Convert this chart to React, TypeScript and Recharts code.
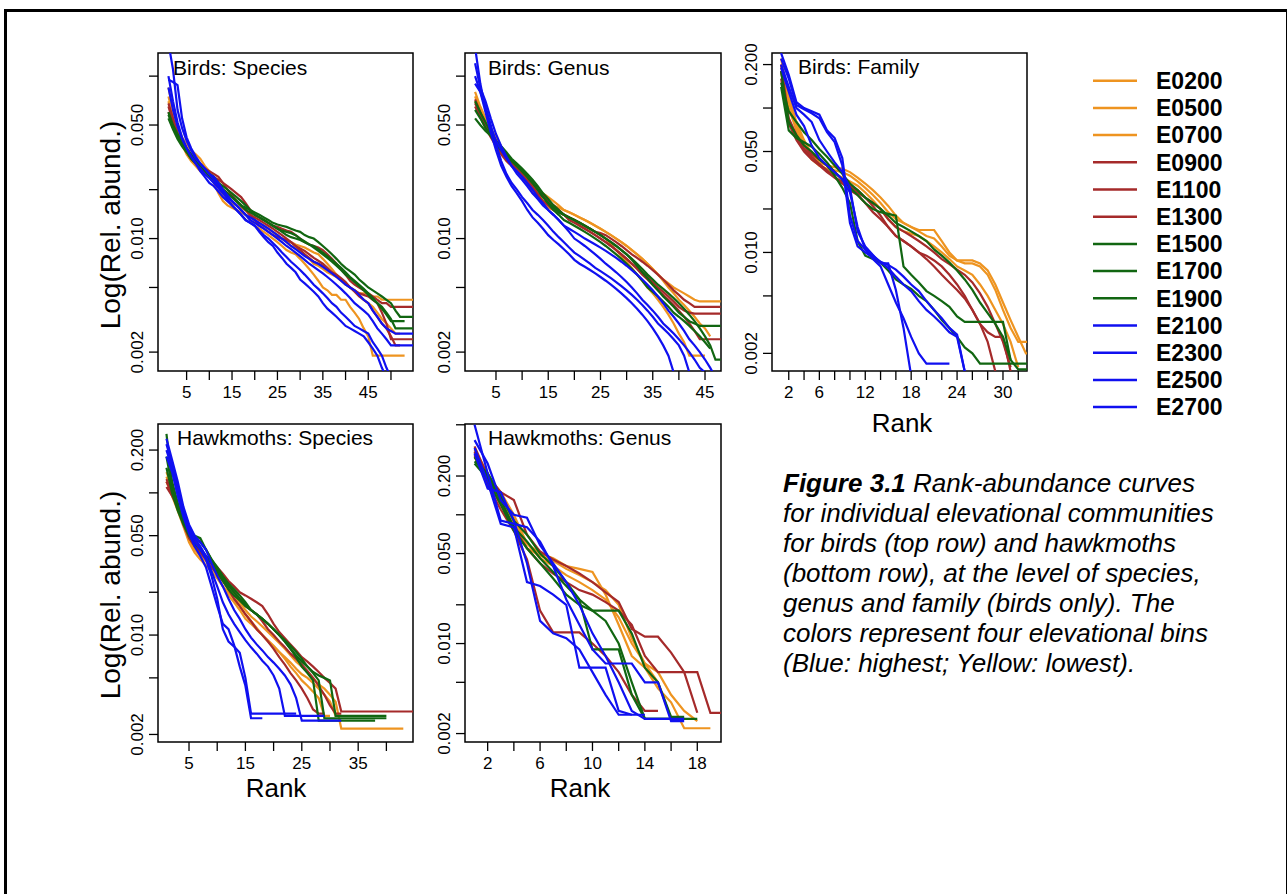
import { LineChart, Line, XAxis, YAxis, ReferenceArea } from 'recharts'

const FONT = '"Liberation Sans", Arial, Helvetica, sans-serif'

const sites = ['E0200', 'E0500', 'E0700', 'E0900', 'E1100', 'E1300', 'E1500', 'E1700', 'E1900', 'E2100', 'E2300', 'E2500', 'E2700']
const ORANGE = '#EE9420'
const RED = '#A52A2A'
const GREEN = '#116611'
const BLUE = '#1010F0'
const siteColors = [ORANGE, ORANGE, ORANGE, RED, RED, RED, GREEN, GREEN, GREEN, BLUE, BLUE, BLUE, BLUE]

// relative abundance in per mille, one row per site (same order as sites), rank 1 first
const birdsSpecies: number[][] = [
  [85, 62, 50, 42, 38, 35, 33, 31, 28, 26, 24, 21, 18, 17, 16.5, 16, 15.5, 15, 14, 13, 12.5, 12, 11.5, 11, 10.5, 10, 9.8, 9.5, 9.2, 9, 8.8, 8.5, 8.2, 8, 7.5, 7, 6.5, 6, 5.6, 5.3, 5, 4.8, 4.6, 4.6, 4.6, 4.4, 4.4, 4.2, 4.2, 4.2, 4.2, 4.2, 4.2, 4.2, 4.2],
  [75, 58, 46, 40, 36, 32, 30, 29, 27, 25, 23, 21, 19, 18, 17, 16, 15, 14, 13.5, 13, 12.5, 12, 11.5, 11, 10.5, 10, 9.5, 9, 8.7, 8.5, 8, 7.5, 7, 6.8, 6.5, 6.2, 6, 5.8, 5.5, 5.2, 5, 4.8, 4.5, 4.2, 4, 3.8, 3.5, 3.2, 3, 2.8, 2.6, 2.6],
  [70, 55, 45, 38, 33, 30, 28, 26, 25, 24, 22, 19, 17, 16, 15.5, 15, 14.5, 14, 13, 12, 11.5, 11, 10.5, 10, 9.5, 9, 8.5, 8.2, 8, 7.5, 7, 6.5, 6, 5.5, 5, 4.8, 4.5, 4.5, 4.2, 4.2, 3.8, 3.5, 3.2, 2.8, 2.5, 1.9, 1.9, 1.9, 1.9, 1.9, 1.9, 1.9, 1.9],
  [65, 52, 44, 39, 35, 32, 30, 28, 26, 25, 24, 23, 22, 21, 20, 19, 18, 16.5, 15, 14, 13.5, 13, 12.5, 12, 11.8, 11.5, 11.2, 11, 10.5, 10, 9.5, 9.2, 9, 8.8, 8.5, 8, 7.5, 7, 6.5, 6, 5.5, 5.2, 5, 4.8, 4.6, 4.4, 4.2, 4, 4, 3.8, 3.8, 3.8, 3.8, 3.8, 3.8],
  [60, 50, 43, 38, 34, 31, 29, 27, 26, 25, 23, 21, 20, 19, 18, 17, 16, 15, 14, 13, 12, 11.5, 11, 10.5, 10.2, 10, 9.8, 9.5, 9, 8.5, 8, 7.6, 7.2, 7, 6.8, 6.5, 6.2, 6, 5.7, 5.4, 5, 4.7, 4.4, 4.2, 4, 3.6, 3.3, 3, 2.8, 2.5, 2.2, 2.2],
  [68, 55, 45, 40, 36, 33, 30, 28, 27, 26, 25, 24, 22, 20, 18.5, 17, 16, 15, 14, 13.5, 13, 12.5, 12, 11.5, 11, 10.5, 10, 9.5, 9, 8.7, 8.4, 8, 7.6, 7.3, 7, 6.6, 6.2, 5.9, 5.6, 5.3, 5, 4.8, 4.6, 4.5, 4.4, 4.2, 4, 3.5, 3, 2.4, 2.4, 2.4, 2.4, 2.4, 2.4],
  [60, 50, 44, 40, 36, 33, 30, 28, 26, 25, 24, 22, 21, 20, 19, 18, 17, 16, 15, 14.5, 14, 13.5, 13, 12.5, 12.2, 12, 11.8, 11.5, 11.2, 11, 10.5, 10.2, 10, 9.5, 9, 8.5, 8, 7.5, 7, 6.6, 6.3, 6, 5.6, 5.3, 5, 4.8, 4.6, 4.4, 4.2, 4, 3.6, 3.3, 3.3, 3.3, 3.3],
  [58, 48, 42, 38, 35, 32, 30, 28, 26, 25, 23, 22, 20, 19, 18, 17, 16, 15, 14.5, 14, 13.5, 13, 12.5, 12, 11.5, 11.2, 11, 10.8, 10.5, 10, 9.6, 9.2, 8.8, 8.4, 8, 7.6, 7.2, 6.8, 6.4, 6, 5.7, 5.4, 5.1, 4.8, 4.5, 4.2, 4, 3.8, 3.5, 3.2, 2.8, 2.8, 2.8, 2.8, 2.8],
  [55, 47, 41, 37, 34, 31, 29, 27, 26, 24, 23, 21, 20, 19, 18, 17, 16, 15.5, 15, 14, 13.5, 13, 12.5, 12, 11.5, 11, 10.5, 10.2, 10, 9.8, 9.5, 9.2, 9, 8.6, 8.2, 7.8, 7.4, 7, 6.6, 6.2, 5.8, 5.5, 5.2, 4.9, 4.6, 4.3, 4, 3.7, 3.4, 3.1, 3.1, 3.1, 3.1],
  [160, 110, 62, 48, 40, 35, 31, 29, 27, 25, 24, 22, 20, 18.5, 17, 16, 15, 14, 13.5, 13, 12.5, 12, 11.5, 11, 10.5, 10, 9.5, 9, 8.6, 8.2, 7.8, 7.5, 7.2, 7, 6.7, 6.4, 6.1, 5.8, 5.5, 5.2, 5, 4.8, 4.5, 4.2, 4, 3.6, 3.3, 3, 2.8, 2.7, 2.6, 2.6, 2.6, 2.6, 2.6],
  [95, 92, 88, 55, 42, 36, 32, 29, 27, 25, 23, 21, 19.5, 18, 17, 16, 15, 14, 13, 12.5, 12, 11.5, 11, 10.5, 10, 9.5, 9, 8.6, 8.2, 7.8, 7.4, 7, 6.7, 6.4, 6.1, 5.8, 5.5, 5.2, 4.9, 4.6, 4.3, 4, 3.8, 3.6, 3.4, 3.1, 2.8, 2.6, 2.4, 2.2, 2.2, 2.2, 2.2, 2.2, 2.2],
  [85, 62, 49, 41, 36, 32, 29, 27, 25, 23.5, 22, 20.5, 19, 17.5, 16, 15, 14, 13, 12.5, 12, 11.2, 10.5, 10, 9.4, 8.8, 8.2, 7.7, 7.2, 6.8, 6.4, 6, 5.6, 5.2, 4.9, 4.6, 4.3, 4, 3.8, 3.5, 3.3, 3.1, 2.9, 2.8, 2.7, 2.6, 2.3, 2.1, 1.9, 1.6, 1.4],
  [100, 70, 52, 42, 36, 32, 29, 26, 24, 22, 21, 19.5, 18, 17, 16, 15, 14, 13, 12.5, 12, 11, 10.2, 9.5, 9, 8.2, 7.6, 7, 6.6, 6.2, 5.6, 5.3, 5, 4.7, 4.4, 4, 3.7, 3.5, 3.3, 3.1, 2.9, 2.8, 2.7, 2.6, 2.5, 2.3, 2.1, 1.9, 1.6, 1.4],
]

const birdsGenus: number[][] = [
  [80, 65, 55, 48, 42, 37, 33, 30, 28, 26, 24, 22, 20, 19, 18, 17, 16, 15, 14.5, 14, 13.5, 13, 12.5, 12, 11.5, 11, 10.5, 10, 9.5, 9, 8.5, 8, 7.5, 7, 6.5, 6, 5.6, 5.3, 5, 4.8, 4.6, 4.4, 4.2, 4.1, 4.1, 4.1, 4.1, 4.1],
  [75, 62, 52, 46, 40, 35, 32, 29, 27, 25, 22, 19, 18, 17, 16.5, 16, 15.5, 15, 14.5, 14, 13.5, 13, 12.5, 12, 11.5, 11, 10.5, 10, 9.5, 9, 8.5, 8, 7.5, 7, 6.5, 6, 5.5, 5, 4.6, 4.2, 3.9, 3.6, 3.3, 3, 2.8, 2.5],
  [70, 60, 50, 44, 38, 34, 31, 29, 27, 25, 23, 21, 19, 17, 15.5, 15, 14.5, 14, 13.5, 13, 12.5, 12, 11.5, 11, 10.5, 10, 9.2, 8.5, 7.8, 7.2, 6.6, 6, 5.5, 5, 4.6, 4.2, 3.8, 3.4, 3, 2.6, 2.3, 1.9, 1.9, 1.9, 1.9],
  [72, 60, 50, 44, 39, 35, 32, 30, 28, 26, 24, 22, 20, 18.5, 17, 16, 15, 14, 13.5, 13, 12.5, 12, 11.5, 11, 10.8, 10.5, 10, 9.5, 9, 8.5, 8, 7.6, 7.2, 6.8, 6.4, 6, 5.6, 5.2, 4.8, 4.5, 4.2, 4, 3.8, 3.8, 3.8, 3.8, 3.8, 3.8],
  [68, 58, 49, 43, 38, 34, 31, 29, 27, 25, 23, 21, 19, 18, 17, 16, 15, 14, 13, 12.5, 12, 11.5, 11, 10.5, 10, 9.5, 9, 8.5, 8, 7.5, 7, 6.6, 6.2, 5.8, 5.4, 5, 4.7, 4.4, 4.1, 3.8, 3.6, 3.5, 3.45, 3.45, 3.45, 3.45, 3.45, 3.45],
  [65, 56, 48, 42, 37, 33, 30, 28, 26, 24, 22, 20, 18.5, 17, 16, 15, 14.5, 14, 13.5, 13, 12, 11.5, 11, 10.5, 10, 9.5, 9, 8.5, 8, 7.5, 7, 6.5, 6, 5.6, 5.2, 4.8, 4.5, 4.2, 3.9, 3.6, 3.3, 3, 2.7, 2.4, 2.4, 2.4, 2.4, 2.4],
  [55, 50, 46, 43, 40, 37, 34, 31, 29, 27, 25, 23, 21, 19, 17.5, 16, 15, 14, 13.5, 13, 12.5, 12, 11.5, 11, 10.5, 10, 9.5, 9, 8.5, 8, 7.5, 7, 6.5, 6, 5.6, 5.2, 4.9, 4.6, 4.3, 4, 3.7, 3.4, 3.1, 2.8, 2.5, 2.2, 1.8, 1.8],
  [62, 55, 48, 43, 38, 35, 32, 30, 28, 26, 24, 22, 20, 18, 16.5, 15.5, 14.5, 14, 13.5, 13, 12.5, 12, 11.5, 11, 10.5, 10, 9.5, 9, 8.5, 8, 7.4, 6.8, 6.2, 5.7, 5.2, 4.8, 4.4, 4.1, 3.8, 3.5, 3.3, 3.1, 3, 2.9, 2.9, 2.9, 2.9, 2.9],
  [70, 60, 52, 45, 40, 36, 33, 30, 28, 26, 24, 22, 20, 18, 16.5, 15, 14, 13, 12.5, 12, 11.5, 11, 10.5, 10, 9.5, 9, 8.5, 8, 7.5, 7, 6.5, 6, 5.5, 5, 4.7, 4.4, 4.1, 3.8, 3.5, 3.3, 3.1, 2.9, 2.7, 2.5, 2.3, 2.1],
  [150, 90, 62, 48, 40, 35, 31, 28, 26, 24, 22, 20, 18, 16.5, 15, 14, 13, 12, 11.5, 11, 10.5, 10, 9.6, 9.2, 8.8, 8.4, 8, 7.6, 7.2, 6.8, 6.4, 6, 5.6, 5.2, 4.8, 4.4, 4, 3.6, 3.3, 3, 2.7, 2.4, 2.2, 2, 1.8, 1.6, 1.4],
  [120, 85, 70, 55, 44, 37, 32, 28, 25, 23, 21, 19, 17.5, 16, 15, 14, 13, 12, 11, 10, 9.5, 9, 8.5, 8, 7.5, 7, 6.6, 6.2, 5.8, 5.4, 5, 4.6, 4.2, 3.9, 3.6, 3.3, 3, 2.8, 2.6, 2.4, 2.2, 2, 1.8, 1.6, 1.5, 1.4],
  [90, 80, 65, 50, 38, 30, 25, 22, 20, 18, 16.5, 15, 14, 13, 12, 11, 10.2, 9.5, 8.8, 8.2, 7.8, 7.4, 7, 6.6, 6.3, 6, 5.7, 5.4, 5.1, 4.8, 4.5, 4.2, 3.9, 3.6, 3.3, 3, 2.8, 2.6, 2.4, 2.2, 1.9, 1.5],
  [100, 80, 60, 45, 35, 28, 24, 21, 19, 17, 15, 13.5, 12.5, 11.5, 10.5, 9.8, 9.2, 8.6, 8, 7.4, 7, 6.7, 6.4, 6.1, 5.8, 5.5, 5.2, 4.9, 4.6, 4.3, 4, 3.7, 3.4, 3.1, 2.8, 2.5, 2.2, 1.9, 1.5],
]

const birdsFamily: number[][] = [
  [220, 120, 80, 60, 48, 42, 40, 39, 38, 36, 33, 30, 27, 24, 21, 18, 16, 15, 14.3, 14.3, 14.3, 12, 10, 8.8, 8.4, 8.4, 8, 7, 5.5, 4, 3, 2.4, 2.4, 2.4],
  [200, 110, 75, 56, 46, 40, 38, 37, 36, 34, 31, 28, 25, 22, 19, 17, 16, 15, 14, 13, 12.5, 11, 9.5, 8.8, 8.8, 8.8, 8.4, 7.5, 6, 4.5, 3.4, 2.6, 2, 2],
  [180, 100, 70, 52, 44, 40, 37, 35, 33, 31, 29, 26, 23, 20, 17, 15, 14, 13.5, 13, 12, 11, 10, 9, 8, 7.5, 7, 6, 5, 4, 3.2, 2.4, 1.6],
  [200, 85, 65, 55, 48, 44, 40, 36, 32, 29, 26, 24, 22, 20, 17, 15, 14, 13, 12, 11, 10, 9, 8.3, 7.6, 7, 6.2, 5.2, 4.2, 3.2, 2.4, 1.6],
  [180, 80, 62, 52, 46, 41, 37, 33, 30, 27, 25, 22, 19, 17, 15, 13, 12, 11, 10, 9, 8, 7, 6.2, 5.5, 4.8, 4, 3.2, 2.4, 1.5],
  [160, 78, 60, 50, 44, 40, 36, 33, 31, 29, 27, 24, 21, 18, 15, 13, 12, 11, 10, 9.5, 8.8, 8, 7, 6, 5, 4, 3.2, 2.8, 2.6, 2.6, 1.5],
  [150, 95, 80, 68, 60, 52, 46, 40, 35, 30, 27, 24, 22, 20, 18, 16, 15, 14, 13, 12, 10.5, 9.5, 8.5, 7.5, 6.5, 5.5, 4.5, 3.8, 3.2, 2.6, 1.8, 1.55, 1.55, 1.55],
  [140, 70, 62, 58, 54, 48, 42, 36, 32, 28, 25, 22, 20, 19, 18.5, 18, 8, 7, 6.2, 5.4, 5, 4.6, 4.2, 3.6, 3.3, 3.3, 3.3, 3.3, 3.3, 3.3, 1.8],
  [180, 80, 65, 55, 50, 44, 40, 34, 28, 22, 12, 9.5, 9, 8.5, 7.5, 6.5, 6, 5.6, 5, 4.6, 4, 3.4, 3, 2.6, 2.2, 2, 1.7, 1.7, 1.7, 1.7, 1.7, 1.7, 1.7, 1.7],
  [240, 170, 110, 100, 95, 90, 70, 62, 45, 18, 12, 10.5, 9.5, 8.6, 8.2, 7.6, 6.8, 6, 5.4, 4.6, 4, 3.5, 3, 2.7, 1.5],
  [220, 160, 105, 98, 92, 85, 68, 58, 40, 16, 11, 10, 9.2, 8.6, 7.8, 6.8, 6, 5.4, 4.6, 4, 3.6, 3.2, 2.8, 2.6, 1.5],
  [200, 140, 100, 90, 80, 60, 50, 42, 36, 28, 14, 11, 9.6, 8.4, 8.4, 5.5, 3, 1.4],
  [190, 130, 90, 75, 55, 45, 40, 36, 32, 26, 15, 10.5, 9, 8, 6, 4.5, 3.5, 2.6, 2, 1.7, 1.7, 1.7, 1.7],
]

const hawkSpecies: number[][] = [
  [140, 110, 85, 65, 50, 42, 38, 35, 32, 28, 24, 21, 19, 17, 15, 13.5, 12.5, 11.5, 10.5, 9.6, 8.8, 8, 7.2, 6.5, 6, 5.5, 5, 4.5, 4.2, 3.8, 3.4, 2.2, 2.2, 2.2, 2.2, 2.2, 2.2, 2.2, 2.2, 2.2, 2.2, 2.2, 2.2],
  [130, 100, 80, 62, 48, 40, 36, 33, 30, 26, 22, 19, 17, 15, 13, 12, 11, 10, 9, 8.3, 7.6, 7, 6.4, 5.8, 5.3, 5, 4.6, 4.2, 3.8, 3.4, 2.7, 2.7],
  [120, 95, 75, 58, 45, 38, 34, 31, 28, 25, 22, 20, 18, 16, 14, 12.5, 11.2, 10, 9.2, 8.4, 7.6, 6.8, 6, 5.4, 4.8, 4.4, 4, 3.6, 2.7, 2.7],
  [110, 95, 80, 65, 52, 46, 40, 36, 33, 30, 27, 24, 22, 20, 19, 18, 17, 16, 14, 12, 10.5, 9.5, 8.6, 7.8, 7, 6.5, 6, 5.5, 5, 4.6, 4.2, 2.9, 2.9, 2.9, 2.9, 2.9, 2.9, 2.9, 2.9, 2.9, 2.9, 2.9, 2.9, 2.9, 2.9],
  [120, 98, 78, 62, 50, 43, 38, 35, 32, 29, 26, 23, 20, 18, 16, 15, 14, 12.5, 11, 10, 9, 8.2, 7.4, 6.8, 6.2, 5.6, 5, 4.4, 3.8, 3.2, 2.8, 2.8],
  [125, 100, 80, 60, 48, 42, 38, 34, 30, 27, 24, 21, 18, 16, 14, 12.5, 11, 10, 9, 8, 7, 6.2, 5.4, 4.8, 4.2, 3.6, 3, 2.8, 2.8],
  [260, 120, 85, 62, 52, 50, 48, 40, 34, 30, 26, 23, 21, 19, 17, 15, 14, 13, 12, 11, 10, 9, 8, 7.2, 6.5, 6, 5.5, 5.2, 5, 4.8, 2.7, 2.7, 2.7, 2.7, 2.7, 2.7, 2.7, 2.7, 2.7, 2.7],
  [180, 110, 80, 65, 55, 50, 45, 40, 34, 29, 25, 22, 20, 18, 16.5, 15, 14, 13, 12, 11, 10, 9.2, 8.4, 7.6, 6.8, 6, 5.4, 4.8, 2.6, 2.6, 2.6, 2.6, 2.6, 2.6, 2.6, 2.6, 2.6, 2.6, 2.6, 2.6],
  [150, 100, 75, 60, 50, 44, 40, 36, 32, 28, 24, 21, 19, 17.5, 16, 15, 14, 13, 12, 11, 10, 9, 8, 7, 6, 5.4, 4.8, 2.5, 2.5, 2.5, 2.5, 2.5, 2.5, 2.5, 2.5, 2.5, 2.5, 2.5],
  [240, 170, 120, 80, 60, 50, 45, 40, 32, 26, 22, 18, 15, 13, 11, 9.6, 8.6, 7.8, 7, 6.4, 5.8, 5.2, 4.5, 3.6, 2.5, 2.5, 2.5, 2.5, 2.5, 2.5, 2.5, 2.5],
  [220, 160, 110, 75, 58, 48, 42, 36, 28, 22, 17, 14, 12, 10.5, 9.2, 8.2, 7.4, 6.6, 6, 5.2, 4.2, 2.7, 2.7, 2.7, 2.7, 2.7, 2.7, 2.7, 2.7],
  [200, 150, 100, 70, 55, 45, 40, 34, 26, 18, 11, 9, 8.3, 7.5, 5, 2.8, 2.8, 2.8, 2.8, 2.8, 2.8, 2.8, 2.8, 2.8],
  [180, 140, 95, 68, 52, 42, 36, 30, 22, 16, 12, 11, 8.5, 6, 4.4, 2.6, 2.6, 2.6],
]

const hawkGenus: number[][] = [
  [300, 200, 150, 100, 60, 50, 46, 40, 38, 36, 24, 14, 8, 6.5, 4.5, 3.5, 2.2, 2.2, 2.2],
  [280, 190, 140, 95, 55, 48, 44, 38, 34, 30, 26, 20, 11, 7, 6, 4, 3, 2.5],
  [320, 210, 130, 85, 60, 46, 40, 34, 30, 26, 22, 16, 10, 7, 5, 2.6],
  [340, 200, 150, 130, 70, 52, 45, 40, 35, 30, 25, 21, 13, 11.3, 11.3, 8.5, 6, 6, 2.9, 2.9],
  [310, 180, 120, 80, 55, 42, 35, 30, 26, 24, 21, 18, 14, 8, 6, 6, 6, 2.9],
  [290, 170, 110, 75, 45, 18, 12.2, 12.2, 12.2, 10, 8, 6, 4, 3, 3],
  [260, 210, 140, 90, 70, 50, 40, 30, 22, 18, 18, 18, 12, 6.5, 5, 2.7, 2.7],
  [280, 200, 130, 80, 62, 46, 36, 28, 22, 9, 9, 9, 4, 2.6, 2.6, 2.6, 2.6],
  [250, 190, 120, 75, 55, 42, 32, 24, 20, 18, 15, 10, 5, 2.6, 2.6, 2.6, 2.6, 2.6],
  [500, 210, 90, 85, 80, 62, 40, 22, 14, 9, 7, 7, 7, 5, 5, 2.5, 2.5],
  [380, 250, 130, 100, 95, 58, 42, 30, 20, 12, 8, 5, 3, 2.6, 2.6, 2.6, 2.6],
  [330, 180, 85, 80, 30, 28, 24, 20, 6.5, 6.5, 6.5, 3, 2.8, 2.8],
  [300, 160, 150, 90, 42, 15, 12, 11, 9, 6, 4, 2.8, 2.8],
]

const yTicks = [2, 5, 10, 20, 50, 100, 200, 500]

const panels = [
  {
    title: 'Birds: Species', data: birdsSpecies, box: [158, 53, 255, 318],
    xDomain: [-1.3, 54.85], xTicks: [5, 10, 15, 20, 25, 30, 35, 40, 45, 50], xLabels: [5, 15, 25, 35, 45],
    yDomain: [1.53, 138.8], yLabels: [2, 10, 50], titleAt: [173, 75],
  },
  {
    title: 'Birds: Genus', data: birdsGenus, box: [465, 53, 256, 318],
    xDomain: [-0.93, 48.06], xTicks: [5, 10, 15, 20, 25, 30, 35, 40, 45], xLabels: [5, 15, 25, 35, 45],
    yDomain: [1.53, 138.8], yLabels: [2, 10, 50], titleAt: [488, 75],
  },
  {
    title: 'Birds: Family', data: birdsFamily, box: [772, 53, 255, 318],
    xDomain: [-0.19, 33.14], xTicks: [2, 4, 6, 8, 10, 12, 14, 16, 18, 20, 22, 24, 26, 28, 30, 32], xLabels: [2, 6, 12, 18, 24, 30],
    yDomain: [1.51, 240.5], yLabels: [2, 10, 50, 200], titleAt: [798, 74],
  },
  {
    title: 'Hawkmoths: Species', data: hawkSpecies, box: [158, 424, 255, 318],
    xDomain: [-0.5, 44.72], xTicks: [5, 10, 15, 20, 25, 30, 35, 40], xLabels: [5, 15, 25, 35],
    yDomain: [1.77, 305], yLabels: [2, 10, 50, 200], titleAt: [177, 445],
  },
  {
    title: 'Hawkmoths: Genus', data: hawkGenus, box: [465, 424, 256, 318],
    xDomain: [0.27, 19.81], xTicks: [2, 4, 6, 8, 10, 12, 14, 16, 18], xLabels: [2, 6, 10, 14, 18],
    yDomain: [1.72, 507], yLabels: [2, 10, 50, 200], titleAt: [488, 445],
  },
]

const XTick = (props: any) => {
  const { x, y, payload, labels } = props
  if (!labels.includes(payload.value)) return <g />
  return (
    <text x={x} y={y} dy="0.71em" textAnchor="middle" fontSize={17} fontFamily={FONT} fill="#000">
      {payload.value}
    </text>
  )
}

const YTick = (props: any) => {
  const { x, y, payload, labels } = props
  if (!labels.includes(payload.value)) return <g />
  return (
    <text x={x} y={y} transform={`rotate(-90 ${x} ${y})`} textAnchor="middle" fontSize={17} fontFamily={FONT} fill="#000">
      {(payload.value / 1000).toFixed(3)}
    </text>
  )
}

function Panel({ cfg }: { cfg: any }) {
  const [bx, by, bw, bh] = cfg.box
  const YW = 60
  const XH = 40
  const MT = 30
  const MR = 5
  const ticks = yTicks.filter((t) => t >= cfg.yDomain[0] && t <= cfg.yDomain[1])
  return (
    <div style={{ position: 'absolute', left: bx - YW, top: by - MT }}>
      <LineChart width={YW + bw + MR} height={MT + bh + XH} margin={{ top: MT, right: MR, bottom: 0, left: 0 }}>
        <XAxis
          dataKey="r"
          type="number"
          domain={cfg.xDomain}
          ticks={cfg.xTicks}
          interval={0}
          allowDataOverflow
          axisLine={false}
          tickLine={{ stroke: '#000', strokeWidth: 1.3 }}
          tickSize={9}
          tickMargin={6}
          height={XH}
          tick={(p: any) => <XTick {...p} labels={cfg.xLabels} />}
        />
        <YAxis
          type="number"
          scale="log"
          domain={cfg.yDomain}
          ticks={ticks}
          interval={0}
          allowDataOverflow
          axisLine={false}
          tickLine={{ stroke: '#000', strokeWidth: 1.3 }}
          tickSize={9}
          tickMargin={6}
          width={YW}
          tick={(p: any) => <YTick {...p} labels={cfg.yLabels} />}
        />
        {cfg.data.map((vals: number[], i: number) => (
          <Line
            key={sites[i]}
            data={vals.map((v, k) => ({ r: k + 1, v }))}
            dataKey="v"
            type="linear"
            stroke={siteColors[i]}
            strokeWidth={2.2}
            dot={false}
            isAnimationActive={false}
          />
        ))}
        <ReferenceArea
          x1={cfg.xDomain[0]}
          x2={cfg.xDomain[1]}
          y1={cfg.yDomain[0]}
          y2={cfg.yDomain[1]}
          fill="none"
          fillOpacity={0}
          stroke="#000"
          strokeWidth={1.5}
          ifOverflow="visible"
        />
      </LineChart>
    </div>
  )
}

const captionLines = [
  'for individual elevational communities',
  'for birds (top row) and hawkmoths',
  '(bottom row), at the level of species,',
  'genus and family (birds only). The',
  'colors represent four elevational bins',
  '(Blue: highest; Yellow: lowest).',
]

export default function App() {
  return (
    <div style={{ position: 'absolute', left: 0, top: 0, width: 1287, height: 894, overflow: 'hidden', background: '#fff' }}>
      <div style={{ position: 'absolute', left: 4, top: 9, width: 1285, height: 900, border: '3px solid #000', boxSizing: 'border-box' }} />
      {panels.map((cfg) => (
        <Panel key={cfg.title} cfg={cfg} />
      ))}
      <svg width={1287} height={894} style={{ position: 'absolute', left: 0, top: 0, pointerEvents: 'none' }} fontFamily={FONT}>
        {panels.map((cfg) => (
          <text key={cfg.title} x={cfg.titleAt[0]} y={cfg.titleAt[1]} fontSize={21} fill="#000">
            {cfg.title}
          </text>
        ))}
        <text x={120} y={225} transform="rotate(-90 120 225)" textAnchor="middle" fontSize={28} fill="#000">
          Log(Rel. abund.)
        </text>
        <text x={120} y={595} transform="rotate(-90 120 595)" textAnchor="middle" fontSize={28} fill="#000">
          Log(Rel. abund.)
        </text>
        <text x={902} y={432} textAnchor="middle" fontSize={26} fill="#000">Rank</text>
        <text x={276} y={797} textAnchor="middle" fontSize={26} fill="#000">Rank</text>
        <text x={580} y={797} textAnchor="middle" fontSize={26} fill="#000">Rank</text>
        {sites.map((s, i) => (
          <g key={s}>
            <line x1={1093} x2={1137} y1={80.7 + 27.2 * i} y2={80.7 + 27.2 * i} stroke={siteColors[i]} strokeWidth={2.5} />
            <text x={1156} y={80.7 + 27.2 * i + 8.3} fontSize={23} fontWeight="bold" fill="#000">{s}</text>
          </g>
        ))}
        <text x={783} y={492} fontSize={26} fontStyle="italic" fill="#000">
          <tspan fontWeight="bold">Figure 3.1</tspan> Rank-abundance curves
        </text>
        {captionLines.map((t, i) => (
          <text key={t} x={783} y={522 + 30 * i} fontSize={26} fontStyle="italic" fill="#000">
            {t}
          </text>
        ))}
      </svg>
    </div>
  )
}
